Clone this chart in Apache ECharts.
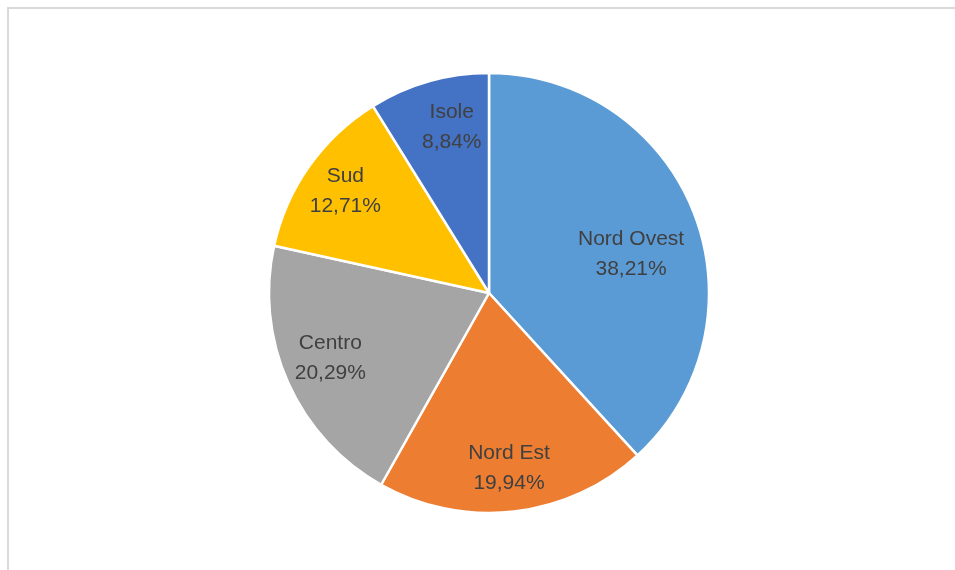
<!DOCTYPE html>
<html>
<head>
<meta charset="utf-8">
<script src="https://cdn.jsdelivr.net/npm/echarts@6/dist/echarts.min.js"></script>
<style>
  html, body { margin: 0; padding: 0; background: #ffffff; }
  #chart { width: 955px; height: 570px; }
</style>
</head>
<body>
<div id="chart"></div>
<script>
// Distribuzione per area geografica (%)
const categories = ['Nord Ovest', 'Nord Est', 'Centro', 'Sud', 'Isole'];
const values = [38.21, 19.94, 20.29, 12.71, 8.84];
const colors = ['#5B9BD5', '#ED7D31', '#A5A5A5', '#FFC000', '#4472C4'];

const fmt = v => v.toFixed(2).replace('.', ',') + '%';

// Small nudges for individual slice labels
const labelNudge = { 'Nord Ovest': [-22, 25], 'Centro': [2, -7], 'Isole': [11, 3] };

const chart = echarts.init(document.getElementById('chart'), null, { renderer: 'canvas' });

const sliceData = categories.map((name, i) => ({
  name: name,
  value: values[i],
  itemStyle: { color: colors[i] }
}));

// Label ring: transparent copy of the slices that carries the text
const labelData = categories.map((name, i) => {
  const d = { name: name, value: values[i] };
  if (labelNudge[name]) d.label = { offset: labelNudge[name] };
  return d;
});

chart.setOption({
  animation: false,
  graphic: [{
    type: 'rect',
    shape: { x: 8, y: 8, width: 980, height: 600 },
    style: { fill: 'none', stroke: '#d9d9d9', lineWidth: 2 },
    silent: true
  }],
  series: [
    {
      type: 'pie',
      center: [489, 293],
      radius: [0, 220],
      startAngle: 90,
      clockwise: true,
      silent: true,
      label: { show: false },
      labelLine: { show: false },
      itemStyle: { borderColor: '#ffffff', borderWidth: 2.5 },
      data: sliceData
    },
    {
      type: 'pie',
      center: [489, 293],
      radius: [130, 216],
      startAngle: 90,
      clockwise: true,
      silent: true,
      itemStyle: { color: 'rgba(0,0,0,0)' },
      label: {
        show: true,
        position: 'inside',
        formatter: p => p.name + '\n' + fmt(p.value),
        color: '#404040',
        fontFamily: 'Liberation Sans, Arial, sans-serif',
        fontSize: 21,
        lineHeight: 30,
        align: 'center'
      },
      labelLine: { show: false },
      data: labelData
    }
  ]
});
</script>
</body>
</html>
